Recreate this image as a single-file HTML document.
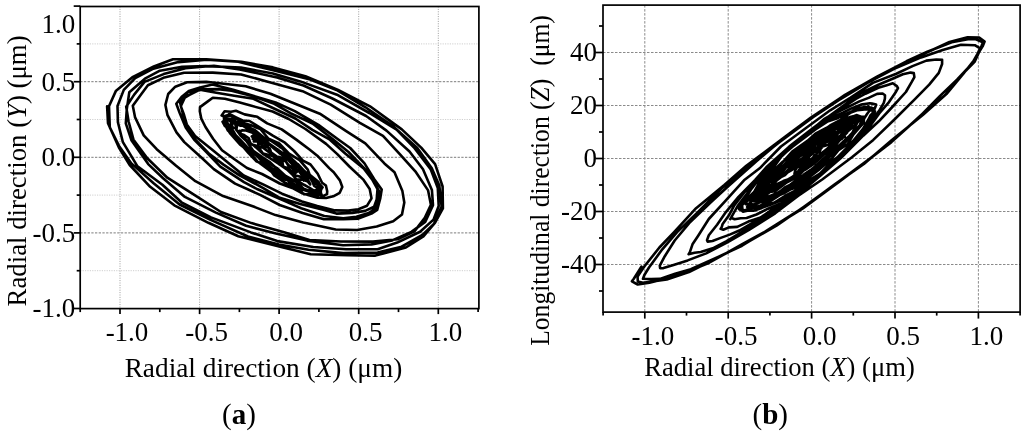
<!DOCTYPE html>
<html lang="en">
<head>
<meta charset="utf-8">
<title>Rotor orbit plots</title>
<style>
html,body{margin:0;padding:0;background:#fff;}
body{width:1024px;height:434px;overflow:hidden;}
svg{display:block;}
</style>
</head>
<body>
<svg width="1024" height="434" viewBox="0 0 1024 434">
<rect width="1024" height="434" fill="#fff"/>
<g id="plot-a">
<g stroke="#7c7c7c" stroke-width="1" stroke-dasharray="2.3,1.4" fill="none">
<line x1="80.2" y1="81.7" x2="478.9" y2="81.7" />
<line x1="80.2" y1="157.3" x2="478.9" y2="157.3" />
<line x1="80.2" y1="232.9" x2="478.9" y2="232.9" />
</g>
<g stroke="#9c9c9c" stroke-width="1" stroke-dasharray="1,1.4" fill="none">
<line x1="120.0" y1="6.5" x2="120.0" y2="308.6" />
<line x1="199.6" y1="6.5" x2="199.6" y2="308.6" />
<line x1="279.1" y1="6.5" x2="279.1" y2="308.6" />
<line x1="358.7" y1="6.5" x2="358.7" y2="308.6" />
<line x1="438.3" y1="6.5" x2="438.3" y2="308.6" />
</g>
<g stroke="#cfcfcf" stroke-width="1" stroke-dasharray="1.2,1.2" fill="none">
<line x1="80.2" y1="43.9" x2="478.9" y2="43.9" />
<line x1="80.2" y1="119.5" x2="478.9" y2="119.5" />
<line x1="80.2" y1="195.1" x2="478.9" y2="195.1" />
<line x1="80.2" y1="270.7" x2="478.9" y2="270.7" />
</g>
<g fill="none" stroke="#000" stroke-width="2.6" stroke-linejoin="round" stroke-linecap="round">
<polyline points="107.1,106.2 108.0,123.2 118.9,147.5 129.7,165.0 150.2,186.8 174.3,205.3 208.4,222.8 238.3,236.3 282.2,247.2 310.7,254.2 347.5,255.3 375.4,255.6 405.9,247.5 423.4,236.4 435.1,222.6 442.9,208.4 442.6,186.5 435.1,164.2 421.2,147.6 401.8,129.4 370.0,106.3 338.1,90.0 305.4,76.2 272.9,67.4 241.4,61.7 206.4,59.3 173.0,59.2 153.8,66.5 133.0,76.8 115.8,91.1 109.0,106.3 109.8,127.3 119.0,145.9 131.4,163.4 153.6,183.2 179.6,204.5 210.0,219.6 248.0,236.5 278.8,244.5 308.5,249.8 343.1,253.1 377.6,252.5 401.6,246.7 422.4,235.0 433.9,224.0 441.6,206.4 439.3,185.4 431.8,168.3 417.3,147.9 393.6,126.6 365.5,107.3 336.5,90.0 310.2,79.5 274.2,70.5 238.3,61.8 206.9,59.8 178.3,62.1 152.4,69.1 135.2,78.2 123.8,89.9 117.5,106.0 117.9,122.2 122.9,142.2 137.5,166.3 162.4,184.8 181.5,202.3 211.0,217.4 250.9,232.4 277.3,241.1 313.3,247.0 346.1,249.2 377.6,249.2 397.2,242.6 420.1,231.8 433.5,219.6 438.7,206.0 437.8,188.1 430.8,169.5 413.8,147.3 396.6,129.7 369.3,113.0 337.0,94.7 300.3,81.4 272.9,73.5 240.9,67.5 205.6,66.1 182.1,66.8 159.9,70.7 144.9,78.7 129.3,92.2 126.8,109.1 125.8,123.3 131.4,140.2 148.2,164.1 163.1,178.3 184.9,196.9 215.9,212.6 246.1,225.7 275.9,233.6 307.1,240.6 343.1,245.3 371.5,244.4 392.2,240.4 411.4,231.9 425.2,221.9 433.0,205.1 431.9,189.9 423.0,169.3 409.5,151.5 386.5,130.6 366.1,116.0 332.4,98.5 303.4,85.5 277.1,77.5 239.7,69.4 213.9,65.7 185.5,68.2 163.7,74.1 144.5,81.9 134.2,94.6 126.2,106.7 128.6,121.5 133.5,139.7 147.3,158.2 167.3,177.7 190.4,192.4 221.0,212.0 251.5,223.1 285.0,232.6 309.5,240.0 341.0,241.5 373.0,241.6 397.6,239.2 414.4,231.4 424.8,217.9 430.9,204.7 428.1,190.4 415.3,171.3 400.0,154.3 383.0,135.8 359.9,122.8 330.7,104.6 302.5,91.2 266.9,81.4 241.1,74.5 212.8,72.6 184.1,72.8 164.4,77.4 147.9,85.2 141.2,94.2 132.8,105.8 135.1,117.4 143.7,135.4 156.7,149.2 176.1,165.8 195.4,181.2 223.1,196.1 254.9,207.1 275.5,215.1 303.3,222.6 335.7,229.5 357.1,230.0 376.7,226.5 393.2,221.3 402.0,214.4 404.3,202.5 402.4,191.1 394.5,172.3 384.4,163.4 365.3,143.4 346.2,131.2 319.8,113.7 297.6,104.8 270.4,93.8 245.7,86.3 221.7,83.5 206.3,81.9 187.1,82.3 175.3,86.7 168.2,94.0 165.4,104.9 167.4,114.8 176.5,132.4 184.3,142.1 201.9,158.0 213.8,169.1 235.1,183.6 260.1,194.9 279.7,205.0 302.6,212.9 323.9,219.3 343.4,219.1 358.4,218.6 371.5,213.6 377.2,210.0 380.2,198.7 381.7,189.6 374.1,178.9 364.5,163.4 350.2,148.0 337.3,138.7 318.4,124.9 294.8,111.1 275.6,102.4 248.2,94.3 233.2,89.7 212.5,84.6 199.2,87.8 188.8,90.9 182.1,96.4 176.3,103.7 179.6,112.7 185.7,127.4 194.1,139.5 206.4,152.1 220.3,166.7 244.0,182.1 257.6,189.3 286.1,201.6 301.2,208.3 324.3,216.0 343.3,218.3 356.4,216.7 368.7,213.1 376.1,208.2 377.5,201.4 379.3,191.6 370.1,175.2 363.6,167.6 348.5,152.0 332.6,139.0 312.5,123.5 291.0,113.4 274.3,103.8 253.1,96.3 231.5,90.8 218.1,89.1 203.6,89.4 187.9,92.1 183.5,98.7 180.1,102.7 183.0,114.2 187.4,128.8 194.9,139.2 208.8,153.5 223.5,164.6 239.1,175.1 262.8,187.8 279.0,197.4 300.2,204.1 323.2,209.8 336.4,213.6 352.5,212.9 365.2,210.9 374.1,206.8 376.7,199.5 377.5,189.0 372.1,179.4 363.7,168.4 345.5,153.8 329.9,139.7 312.4,129.8 295.3,118.5 271.3,107.3 253.5,98.8 234.2,95.8 216.4,92.7 199.9,89.6 189.5,94.9 184.9,97.5 180.8,106.1 184.0,114.8 186.8,124.4 195.1,135.9 211.3,148.9 226.0,160.9 243.7,175.5 263.1,184.4 282.0,193.7 302.0,201.5 317.3,206.0 335.1,210.4 348.3,210.6 358.3,209.2 367.1,205.7 371.5,198.3 369.7,188.9 363.6,179.9 349.4,166.5 337.3,154.1 326.1,143.9 305.4,129.0 288.7,119.0 272.6,111.5 251.5,105.8 239.8,102.5 224.9,98.7 212.8,97.7 207.8,101.4 200.0,107.1 199.8,111.3 201.4,118.9 205.5,127.0 213.1,138.8 222.0,150.3 234.1,159.0 247.0,168.0 262.0,174.0 279.8,183.5 292.2,187.9 302.8,193.6 317.5,197.8 326.1,198.0 333.3,196.3 339.7,192.8 342.3,187.0 339.9,180.4 333.7,172.2 329.2,168.1 317.3,155.7 309.5,149.6 296.3,139.6 281.7,129.4 267.2,123.4 257.3,116.8 244.6,114.4 235.9,110.7 231.1,111.8 224.6,111.3 221.6,115.4 223.5,116.0 225.0,123.3 227.1,128.5 230.4,133.7 239.9,144.5 249.6,152.0 257.5,161.5 267.3,168.7 279.6,177.9 287.6,180.2 302.6,188.9 310.2,190.7 317.6,194.2 323.0,196.2 327.0,194.1 327.2,191.3 325.9,185.5 322.1,182.7 317.7,173.7 310.5,164.5 302.9,160.6 294.1,151.0 284.9,142.7 272.8,135.7 264.8,130.6 249.5,121.0 242.5,120.5 236.1,117.3 229.4,113.8 228.2,114.9 224.3,116.3 224.5,123.4 227.8,130.4 235.1,136.2 239.0,142.0 248.3,152.9 256.2,161.2 267.0,165.5 274.2,175.4 286.0,183.3 297.1,187.0 303.7,194.1 312.5,194.6 316.8,196.6 319.9,194.4 321.5,194.4 319.2,188.7 318.7,182.1 309.7,174.7 307.8,169.6 299.6,160.1 289.1,153.7 279.2,143.4 268.6,138.8 260.3,129.0 251.8,125.6 242.8,122.8 234.2,117.4 230.7,115.5 225.4,116.6 224.3,119.5 228.1,124.1 230.5,126.1 235.5,135.0 240.4,139.9 247.0,147.0 255.2,154.7 268.8,163.2 277.4,168.4 286.9,177.1 297.0,182.3 304.8,185.0 313.6,190.3 319.0,191.6 321.0,190.4 321.1,189.4 322.6,187.3 318.8,183.2 313.1,178.2 304.7,171.3 297.7,164.0 286.7,156.7 282.3,152.7 268.7,143.2 261.3,135.9 252.4,129.5 245.2,123.6 235.7,122.0 233.8,118.7 227.6,118.5 227.0,120.1 227.5,123.2 231.3,130.0 233.9,135.9 239.8,140.1 250.8,150.9 257.8,156.9 267.9,168.1 279.2,174.7 286.2,178.9 295.9,188.3 302.7,189.6 309.1,191.8 315.1,194.3 318.8,194.9 320.9,192.7 320.6,187.5 317.8,185.5 313.6,180.0 304.3,174.8 296.1,162.7 288.5,158.8 278.1,151.2 266.9,142.9 259.9,135.8 249.9,130.4 242.8,125.6 233.8,123.6 228.3,119.7 226.3,119.1 222.5,121.7 224.9,126.1 228.7,128.2 233.9,136.0 239.4,142.6 247.6,147.6 256.3,154.8 267.1,165.1 276.3,171.0 285.6,175.9 296.2,181.7 303.6,188.7 309.7,190.9 316.9,192.8 318.3,194.0 319.3,194.7 319.0,188.8 314.2,186.0 310.8,177.9 304.8,173.4 296.4,165.7 290.2,160.4 279.4,153.1 269.6,144.8 260.4,138.1 253.5,132.1 242.7,125.5 240.6,125.7 233.6,123.0 231.6,120.4 230.8,122.1 232.8,127.6 235.0,127.8 240.5,135.5 246.4,141.0 253.2,150.7 262.2,157.1 269.4,161.8 276.0,168.0 286.7,179.0 296.7,180.1 303.5,184.7 308.8,187.3 315.4,191.5 315.4,190.1 317.6,189.3 318.6,185.6 312.2,181.3 307.0,173.4 301.6,169.6 294.7,161.4 288.1,155.6 282.2,148.3 271.6,141.1 264.4,137.9 254.8,129.9 250.9,128.5 241.3,124.9 239.1,123.7 235.4,124.9 235.5,125.1 236.8,126.7 236.4,130.0 243.2,137.1 247.8,141.2 254.7,146.2 262.9,153.9 269.1,157.6 278.1,163.4 286.8,169.4 292.6,174.9 296.4,179.4 303.0,179.7 307.8,181.6 310.2,184.4 309.3,182.4 307.5,179.1 305.7,177.3 302.9,172.0 300.4,168.6 292.7,164.8 285.5,157.1 275.1,149.5 270.2,145.3 261.7,142.3 258.5,138.4 252.6,132.7 246.1,130.5 242.0,130.3 241.2,131.3 239.4,130.8 240.3,133.7 244.1,135.0 248.8,138.3 250.8,144.3 257.6,146.1 263.0,153.5 272.8,156.0 278.7,163.2 282.9,166.1 292.1,172.1 295.5,175.5 298.8,176.2 303.0,177.7 303.8,180.6 306.8,178.3 306.5,177.0 303.0,176.5 298.5,170.8 294.6,168.3 288.3,165.5 284.0,158.3 276.5,156.4 270.8,152.2 267.1,145.6 264.2,142.8 259.0,139.9 254.0,140.1 255.7,137.9 252.9,135.8 251.8,136.4 255.7,140.2 253.9,141.5 257.9,141.5 258.9,147.5 262.4,147.1 268.7,152.0 274.1,155.4 275.7,159.1 282.5,162.7 283.2,166.8 287.8,167.9 292.5,172.3 292.6,170.5 294.8,173.6 296.8,172.0 296.6,171.8 295.8,170.7 290.5,167.0 287.9,164.4 285.7,161.2 281.0,159.9 278.4,158.2 271.6,153.7 269.7,148.4 266.0,146.9 261.2,144.8 260.4,141.8 254.6,140.5 252.8,139.0 253.0,138.8"/>
</g>
<g stroke="#000" stroke-width="1.7" fill="none" stroke-linecap="butt">
<rect x="80.2" y="6.5" width="398.7" height="302.1"/>
<line x1="73.7" y1="6.1" x2="80.2" y2="6.1" />
<line x1="73.7" y1="81.7" x2="80.2" y2="81.7" />
<line x1="73.7" y1="157.3" x2="80.2" y2="157.3" />
<line x1="73.7" y1="232.9" x2="80.2" y2="232.9" />
<line x1="73.7" y1="308.5" x2="80.2" y2="308.5" />
<line x1="76.7" y1="43.9" x2="80.2" y2="43.9" />
<line x1="76.7" y1="119.5" x2="80.2" y2="119.5" />
<line x1="76.7" y1="195.1" x2="80.2" y2="195.1" />
<line x1="76.7" y1="270.7" x2="80.2" y2="270.7" />
<line x1="120.0" y1="308.6" x2="120.0" y2="314.1" />
<line x1="199.6" y1="308.6" x2="199.6" y2="314.1" />
<line x1="279.1" y1="308.6" x2="279.1" y2="314.1" />
<line x1="358.7" y1="308.6" x2="358.7" y2="314.1" />
<line x1="438.3" y1="308.6" x2="438.3" y2="314.1" />
<line x1="80.2" y1="308.6" x2="80.2" y2="312.1" />
<line x1="159.8" y1="308.6" x2="159.8" y2="312.1" />
<line x1="239.4" y1="308.6" x2="239.4" y2="312.1" />
<line x1="318.9" y1="308.6" x2="318.9" y2="312.1" />
<line x1="398.5" y1="308.6" x2="398.5" y2="312.1" />
<line x1="478.1" y1="308.6" x2="478.1" y2="312.1" />
</g>
<g font-family='"Liberation Serif", "DejaVu Serif", serif' font-size="27" fill="#000">
<text x="75.3" y="33.3" text-anchor="end">1.0</text>
<text x="75.3" y="90.5" text-anchor="end">0.5</text>
<text x="75.3" y="166.1" text-anchor="end">0.0</text>
<text x="75.3" y="241.7" text-anchor="end">-0.5</text>
<text x="75.3" y="317.1" text-anchor="end">-1.0</text>
<text x="127.0" y="341" text-anchor="middle">-1.0</text>
<text x="206.6" y="341" text-anchor="middle">-0.5</text>
<text x="286.1" y="341" text-anchor="middle">0.0</text>
<text x="365.7" y="341" text-anchor="middle">0.5</text>
<text x="445.3" y="341" text-anchor="middle">1.0</text>
</g>
<g font-family='"Liberation Serif", "DejaVu Serif", serif' fill="#000">
<text x="263.5" y="376.5" font-size="27.3" text-anchor="middle">Radial direction (<tspan font-style="italic">X</tspan>) (μm)</text>
<text transform="translate(26.3,170.9) rotate(-90)" font-size="26.8" text-anchor="middle">Radial direction (<tspan font-style="italic">Y</tspan>) (μm)</text>
</g>
<text x="238.9" y="423.7" text-anchor="middle" font-family='"Liberation Serif", "DejaVu Serif", serif' font-size="29" fill="#000">(<tspan font-weight="bold">a</tspan>)</text>
</g>
<g id="plot-b">
<g stroke="#8a8a8a" stroke-width="1" stroke-dasharray="2.5,1.5" fill="none">
<line x1="603.0" y1="52.5" x2="1020.1" y2="52.5" />
<line x1="603.0" y1="105.5" x2="1020.1" y2="105.5" />
<line x1="603.0" y1="158.5" x2="1020.1" y2="158.5" />
<line x1="603.0" y1="211.5" x2="1020.1" y2="211.5" />
<line x1="603.0" y1="264.5" x2="1020.1" y2="264.5" />
<line x1="644.8" y1="5.1" x2="644.8" y2="312.1" />
<line x1="728.2" y1="5.1" x2="728.2" y2="312.1" />
<line x1="811.6" y1="5.1" x2="811.6" y2="312.1" />
<line x1="895.0" y1="5.1" x2="895.0" y2="312.1" />
<line x1="978.4" y1="5.1" x2="978.4" y2="312.1" />
</g>
<g fill="none" stroke="#000" stroke-width="2.6" stroke-linejoin="round" stroke-linecap="round">
<polyline points="641.4,266.7 633.8,278.8 631.9,281.3 637.7,284.5 649.4,282.7 661.5,279.8 682.2,273.8 709.2,262.7 742.7,244.0 765.1,231.7 803.6,207.3 835.8,183.6 863.9,163.9 891.9,139.9 922.8,115.0 946.4,94.1 963.2,74.0 973.6,60.7 982.6,46.4 984.6,41.5 979.2,37.5 967.6,37.2 949.5,42.0 931.1,50.5 906.4,61.6 874.8,77.8 843.7,95.8 810.9,117.6 785.7,136.4 746.3,165.8 724.3,185.1 696.1,208.2 674.1,232.1 659.4,247.5 644.1,266.8 637.6,276.5 637.8,281.5 642.8,282.8 652.5,281.5 666.8,279.4 689.0,272.0 713.0,260.1 745.5,243.4 776.5,225.7 803.9,206.7 836.1,183.6 871.6,157.3 899.0,135.2 922.8,113.5 944.9,95.3 960.8,75.9 974.8,61.5 980.7,48.5 982.9,42.2 975.2,39.0 967.9,39.3 951.7,42.3 927.3,51.7 906.5,61.3 877.0,76.7 845.0,94.8 813.4,116.9 779.7,141.9 756.0,160.7 721.5,188.5 697.1,212.9 677.1,232.1 662.3,249.3 649.0,267.5 644.4,275.0 643.0,278.8 651.1,279.1 659.9,278.9 675.1,273.8 690.8,269.3 718.7,256.6 742.0,245.7 781.1,221.9 802.9,208.5 839.6,181.4 867.3,160.6 891.4,142.1 917.4,118.8 939.8,96.1 957.0,79.6 971.8,63.8 977.8,53.3 980.1,48.4 974.8,45.2 961.0,44.8 942.7,50.1 921.1,57.4 894.1,68.9 868.3,82.4 838.8,100.2 806.6,121.5 780.4,141.0 756.4,161.2 728.2,186.3 710.3,202.8 689.2,223.1 674.7,240.5 664.8,256.2 659.8,265.6 660.1,268.2 663.5,268.1 673.5,264.9 687.7,260.4 706.2,253.4 726.9,242.7 749.0,229.9 775.2,213.3 798.0,195.9 822.2,179.5 851.9,157.3 873.3,139.9 894.7,119.3 915.2,98.9 929.2,84.6 938.8,72.9 942.1,64.0 942.1,59.8 936.3,59.5 926.4,60.6 912.5,66.1 896.3,73.7 872.9,82.9 850.6,97.7 830.2,110.3 806.0,128.0 781.0,146.5 759.7,168.3 744.0,180.3 725.2,201.1 708.8,219.0 698.2,235.7 692.5,244.3 689.7,252.6 688.6,254.2 694.5,252.7 700.7,252.0 712.7,248.3 726.6,241.2 746.6,229.2 761.3,219.9 780.3,207.3 804.3,189.2 820.6,175.4 840.9,158.0 863.2,135.7 878.8,121.3 891.8,107.5 905.9,92.0 911.6,82.2 914.4,77.1 913.8,73.1 910.6,72.6 902.9,74.2 891.4,79.2 877.9,85.0 860.3,93.4 845.0,104.6 823.4,120.4 809.5,130.9 789.2,146.6 766.3,167.3 755.2,179.8 738.5,196.8 725.9,212.1 717.1,224.8 708.8,235.3 707.0,240.1 707.7,241.6 712.5,241.0 720.0,238.1 729.7,234.6 739.3,230.5 756.8,220.3 768.7,213.5 789.2,199.0 803.3,190.2 820.1,174.4 841.4,155.6 853.2,142.7 868.9,127.8 879.2,113.5 889.0,102.1 895.5,92.5 898.0,88.1 896.9,86.1 892.8,83.3 886.8,85.2 878.3,87.7 865.4,93.7 855.9,98.9 837.8,111.0 824.0,119.2 808.6,132.6 790.5,147.5 773.5,162.7 762.8,175.1 744.7,192.0 734.4,205.1 728.8,215.6 722.5,224.3 721.8,226.8 720.6,228.8 723.3,229.7 728.9,227.4 737.3,226.9 748.4,221.6 760.6,217.5 777.1,206.0 790.2,197.9 806.0,185.0 824.0,170.7 835.4,159.3 848.4,146.1 860.4,133.7 869.9,122.7 879.1,110.8 883.8,102.8 884.9,98.6 885.0,95.2 882.6,93.5 877.1,93.9 868.6,97.9 859.4,101.4 846.9,107.6 834.8,113.4 821.2,125.0 805.0,136.3 793.6,144.5 776.6,159.6 766.2,172.8 753.4,185.5 744.4,197.0 737.6,206.1 732.5,215.1 730.3,219.1 731.1,217.7 734.6,219.3 740.7,218.2 746.6,218.0 756.5,214.5 768.0,208.7 782.5,202.6 792.4,195.1 806.1,185.1 820.5,173.2 831.5,161.4 843.8,153.2 854.3,139.5 863.2,128.6 869.0,118.5 873.1,112.2 875.4,107.0 876.1,104.6 872.0,103.6 869.9,103.2 861.0,104.6 852.1,108.2 842.9,112.7 828.7,118.8 818.8,126.0 805.4,135.6 793.0,144.8 780.2,157.7 768.6,168.7 760.4,177.4 751.4,188.9 745.1,199.0 741.7,204.9 741.3,210.3 741.7,210.3 742.9,211.7 748.5,210.5 753.5,210.8 761.8,207.9 770.2,204.7 784.4,199.0 793.7,192.3 805.6,185.3 819.9,175.5 830.1,163.6 844.1,151.1 852.3,141.6 860.0,135.1 866.2,124.4 870.5,115.4 873.1,112.5 873.6,108.4 871.4,107.6 865.9,107.0 857.4,108.1 851.1,111.8 840.6,116.4 827.7,121.3 815.5,129.4 803.1,138.7 792.5,146.8 782.1,155.4 770.5,166.8 760.3,178.2 751.6,188.1 745.4,197.9 742.2,203.6 738.9,207.8 739.1,209.2 741.7,210.4 746.1,210.6 753.0,207.9 760.5,205.4 769.3,201.8 783.1,193.0 792.5,186.6 804.3,177.4 818.5,167.4 827.3,156.9 840.1,146.4 849.9,136.3 859.2,126.4 864.3,118.3 867.4,113.5 870.9,109.0 869.9,108.7 868.5,106.4 864.8,108.3 858.9,109.0 851.7,112.0 840.6,119.8 830.1,125.5 818.2,133.7 806.0,141.9 792.2,151.6 780.5,164.7 771.6,171.7 762.8,182.2 754.4,191.6 747.1,198.7 742.1,205.3 742.4,209.1 742.2,209.3 744.7,210.5 748.2,209.0 754.7,207.8 762.6,206.0 774.0,202.8 784.8,196.0 794.8,190.8 806.5,181.8 819.5,173.9 832.7,161.2 843.0,152.9 854.1,142.5 859.5,134.5 867.7,126.1 872.7,117.3 874.4,113.2 875.0,111.2 871.3,110.4 866.8,109.2 857.6,110.1 849.0,113.4 838.1,117.9 827.5,121.6 815.6,127.2 804.0,137.4 791.3,147.2 781.2,156.7 774.4,166.3 766.8,173.0 759.3,182.6 754.6,191.2 751.8,196.4 751.2,200.2 751.7,199.9 754.0,200.7 759.0,200.6 762.7,199.0 769.1,196.1 778.1,192.9 785.4,187.1 796.0,181.9 804.8,173.8 815.0,167.0 823.8,158.9 833.3,148.7 839.2,140.8 847.0,132.7 849.6,125.8 852.8,121.9 854.1,117.7 855.5,116.7 854.3,116.1 851.2,116.8 846.3,118.3 840.0,121.3 833.2,125.1 822.9,132.3 812.8,138.5 803.1,146.2 793.3,153.9 782.7,161.7 773.6,170.4 765.2,177.4 759.1,185.5 752.7,194.1 748.8,200.0 745.0,202.6 745.7,204.2 748.7,203.7 753.6,204.5 760.7,202.1 768.5,200.6 776.7,195.9 786.4,190.8 795.4,187.8 808.6,177.7 818.7,169.9 831.8,158.5 838.9,149.8 847.6,144.2 853.5,134.3 859.8,127.1 863.5,123.1 864.0,119.0 864.6,116.8 861.2,116.7 857.0,115.1 850.0,117.4 844.7,118.1 834.5,123.8 825.9,128.1 815.4,133.7 807.4,140.9 795.4,149.7 782.7,162.1 775.7,169.5 767.1,177.4 761.1,185.5 756.1,194.4 754.1,197.4 750.6,199.1 750.5,200.4 753.3,201.2 756.1,201.8 762.5,199.8 772.4,195.0 781.5,191.2 790.1,185.5 799.5,178.5 809.9,170.7 818.5,164.4 830.5,155.5 838.5,147.4 847.1,138.8 853.5,133.3 859.0,127.5 860.8,122.4 863.3,118.8 862.7,118.2 861.3,117.4 855.1,119.2 852.2,119.7 841.4,123.3 833.6,126.9 826.2,132.3 816.7,139.1 807.7,144.9 795.7,154.5 787.6,163.3 780.0,169.3 772.7,178.8 766.7,185.5 763.2,191.4 758.6,197.0 758.8,199.6 758.3,200.1 761.8,199.9 765.9,199.6 769.5,199.3 775.5,196.7 785.0,192.7 793.0,187.8 800.8,182.5 810.7,174.5 821.3,165.1 829.3,157.0 838.8,148.6 845.5,142.1 851.9,133.7 855.3,126.5 857.3,122.8 860.5,118.6 859.3,119.3 858.5,116.8 853.0,118.5 849.1,119.2 842.2,121.7 834.7,127.0 826.3,132.8 815.5,139.5 804.1,147.0 793.3,157.7 786.6,165.4 774.4,175.1 766.7,183.4 761.1,190.7 754.8,198.5 750.3,202.5 747.1,206.9 748.7,207.0 751.6,206.0 756.0,204.4 760.5,201.9 770.3,197.6 779.1,191.8 786.6,187.5 796.9,179.5 810.2,170.6 818.2,163.5 827.6,155.0 840.0,144.8 849.4,135.9 854.6,130.5 859.2,126.0 863.9,122.5 863.7,119.9 862.8,120.1 859.5,119.0 852.9,121.9 847.6,122.2 840.2,125.9 831.9,131.4 819.8,138.6 811.3,143.5 800.8,151.7 792.1,158.4 784.4,165.6 777.8,172.0 768.9,180.6 764.1,186.2 761.4,191.4 757.4,195.4 758.2,197.6 758.1,198.2 761.7,197.0 764.6,196.3 769.9,191.9 775.1,191.3 781.4,186.4 787.0,182.3 798.3,176.4 803.6,170.4 811.8,165.0 820.8,157.0 830.5,148.2 836.1,141.8 840.7,135.6 844.1,130.6 846.6,126.5 848.5,123.2 847.7,122.8 845.3,122.5 843.1,122.9 837.9,124.6 833.7,127.3 826.3,132.6 817.0,137.7 808.8,144.0 800.0,151.6 791.3,156.9 783.3,165.6 772.4,174.6 764.5,183.1 758.2,188.6 754.2,194.8 752.9,195.5 750.4,199.9 749.6,200.4 753.2,198.1 756.7,198.3 763.9,194.3 769.4,192.3 776.5,187.4 784.5,182.7 793.4,176.4 806.1,165.9 813.6,161.5 825.7,151.1 833.2,145.5 840.9,138.6 846.3,132.6 853.2,127.1 854.9,124.6 856.6,121.9 854.3,122.2 852.2,123.5 847.5,125.6 841.0,129.0 836.3,132.0 826.2,137.2 818.0,143.1 811.3,148.4 798.9,157.3 791.2,164.6 781.5,169.9 772.0,177.5 765.1,184.6 761.5,188.5 759.0,193.1 753.6,197.2 752.8,198.1 753.0,198.9 756.9,198.7 759.9,197.1 765.5,194.2 772.3,189.3 778.9,185.9 787.3,180.1 796.6,174.3 805.4,169.7 814.7,163.1 823.8,154.8 831.7,148.5 838.2,139.7 844.3,135.4 847.8,130.8 852.1,126.9 851.8,124.3 850.6,125.1 848.4,125.0 846.6,124.0 839.6,128.3 836.0,128.7 828.8,134.7 819.8,140.5 810.2,145.6 803.8,151.1 794.2,159.6 787.7,165.1 781.0,174.1 774.1,179.1 770.8,185.8 766.9,191.4 765.6,191.8 764.4,194.4 765.1,195.0 766.4,194.6 768.5,193.0 774.4,187.8 781.6,185.0 788.1,181.1 792.8,176.5 805.2,167.1 810.5,161.0 819.3,155.0 826.3,149.4 832.7,144.1 838.0,137.9 844.8,133.1 847.8,129.7 849.3,128.5 849.9,126.3 850.0,127.3 846.6,127.3 842.1,129.6 839.4,132.5 833.5,137.3 825.1,141.3 817.3,147.0 810.4,151.5 802.0,158.6 796.1,162.3 789.7,167.9 782.8,175.7 775.1,181.8 772.7,185.1 768.3,188.0 766.2,192.3 765.0,191.2 766.6,191.0 766.9,190.2 769.6,188.9 774.7,187.5 780.0,185.3 783.8,180.7 791.8,178.3 797.7,172.1 805.4,167.8 814.0,161.0 820.6,154.6 828.3,148.5 832.2,143.8 835.3,141.7 838.5,136.8 842.2,134.5 842.2,131.8 841.4,131.8 840.1,132.3 836.8,133.0 832.5,135.2 827.3,137.5 819.7,142.8 814.3,145.3 808.1,149.8 801.0,154.3 791.6,162.2 785.3,166.7 779.9,171.9 773.3,177.6 770.0,180.5 766.1,185.1 764.6,186.7 764.5,187.5 763.0,188.6 766.3,187.9 769.6,185.5 773.4,183.7 778.7,178.6 785.6,173.7 790.3,170.9 800.3,164.6 806.7,158.9 814.0,152.2 819.6,147.2 825.3,142.9 831.3,139.6 836.8,135.4 838.6,132.2 841.7,130.2 842.0,130.6 841.3,129.5 838.5,132.1 837.2,134.1 833.9,136.1 828.0,138.9 822.8,143.4 817.3,148.4 809.5,153.2 803.1,158.5 797.5,163.6 791.0,168.9 785.0,175.0 780.0,177.5 776.8,180.2 773.8,184.4 772.0,185.3 771.5,186.4 771.6,186.4 775.6,186.3 777.3,183.9 782.8,181.4 787.2,179.8 793.2,176.3 799.5,170.7 807.1,165.1 812.2,160.4 818.7,157.0 825.3,152.1 831.6,147.2 834.8,143.7 841.0,139.3 841.6,139.1 843.2,137.0 844.9,136.7 842.6,137.7 840.3,137.4 836.1,138.5 831.7,141.5 828.2,144.7 821.8,146.7 814.9,150.3 812.9,153.3 807.0,157.9 804.0,160.9 799.6,163.8 797.0,167.2 795.3,170.0 794.8,172.2 794.5,173.5 795.6,173.6 796.5,173.2 797.3,173.3 796.8,172.4 798.4,171.1 799.2,169.7 800.5,168.7 803.0,165.5 806.1,163.3 806.7,161.7 810.6,159.4 812.5,158.4 814.5,155.3 816.4,154.1 817.3,152.8 819.6,152.0 820.4,149.9 820.2,149.2 821.6,147.9 820.9,147.5 820.3,148.6 819.3,150.1 818.6,148.9 816.7,151.3 813.7,152.0 812.2,152.8 810.1,154.9 808.4,158.4 804.6,158.5 803.9,161.7 801.1,163.7 800.1,165.7 798.3,167.1 797.5,167.3 795.7,168.6 796.0,169.3"/>
</g>
<g stroke="#000" stroke-width="1.7" fill="none" stroke-linecap="butt">
<rect x="603.0" y="5.1" width="417.1" height="307.0"/>
<line x1="595.5" y1="52.5" x2="603.0" y2="52.5" />
<line x1="595.5" y1="105.5" x2="603.0" y2="105.5" />
<line x1="595.5" y1="158.5" x2="603.0" y2="158.5" />
<line x1="595.5" y1="211.5" x2="603.0" y2="211.5" />
<line x1="595.5" y1="264.5" x2="603.0" y2="264.5" />
<line x1="599.0" y1="26.0" x2="603.0" y2="26.0" />
<line x1="599.0" y1="79.0" x2="603.0" y2="79.0" />
<line x1="599.0" y1="132.0" x2="603.0" y2="132.0" />
<line x1="599.0" y1="185.0" x2="603.0" y2="185.0" />
<line x1="599.0" y1="238.0" x2="603.0" y2="238.0" />
<line x1="599.0" y1="291.0" x2="603.0" y2="291.0" />
<line x1="644.8" y1="312.1" x2="644.8" y2="318.6" />
<line x1="728.2" y1="312.1" x2="728.2" y2="318.6" />
<line x1="811.6" y1="312.1" x2="811.6" y2="318.6" />
<line x1="895.0" y1="312.1" x2="895.0" y2="318.6" />
<line x1="978.4" y1="312.1" x2="978.4" y2="318.6" />
<line x1="603.1" y1="312.1" x2="603.1" y2="315.6" />
<line x1="686.5" y1="312.1" x2="686.5" y2="315.6" />
<line x1="769.9" y1="312.1" x2="769.9" y2="315.6" />
<line x1="853.3" y1="312.1" x2="853.3" y2="315.6" />
<line x1="936.7" y1="312.1" x2="936.7" y2="315.6" />
<line x1="1020.1" y1="312.1" x2="1020.1" y2="315.6" />
</g>
<g font-family='"Liberation Serif", "DejaVu Serif", serif' font-size="27" fill="#000">
<text x="597" y="61.0" text-anchor="end">40</text>
<text x="597" y="114.0" text-anchor="end">20</text>
<text x="597" y="167.0" text-anchor="end">0</text>
<text x="597" y="220.0" text-anchor="end">-20</text>
<text x="597" y="273.0" text-anchor="end">-40</text>
<text x="652.8" y="344.5" text-anchor="middle">-1.0</text>
<text x="736.2" y="344.5" text-anchor="middle">-0.5</text>
<text x="819.6" y="344.5" text-anchor="middle">0.0</text>
<text x="903.0" y="344.5" text-anchor="middle">0.5</text>
<text x="986.4" y="344.5" text-anchor="middle">1.0</text>
</g>
<g font-family='"Liberation Serif", "DejaVu Serif", serif' fill="#000">
<text x="779.5" y="376.3" font-size="26.6" text-anchor="middle">Radial direction (<tspan font-style="italic">X</tspan>) (μm)</text>
<text transform="translate(549.3,180.5) rotate(-90) scale(0.948,1)" font-size="27" text-anchor="middle" style="white-space:pre">Longitudinal direction (<tspan font-style="italic">Z</tspan>)  (μm)</text>
</g>
<text x="770.3" y="423.7" text-anchor="middle" font-family='"Liberation Serif", "DejaVu Serif", serif' font-size="29" fill="#000">(<tspan font-weight="bold">b</tspan>)</text>
</g>
</svg>
</body>
</html>
